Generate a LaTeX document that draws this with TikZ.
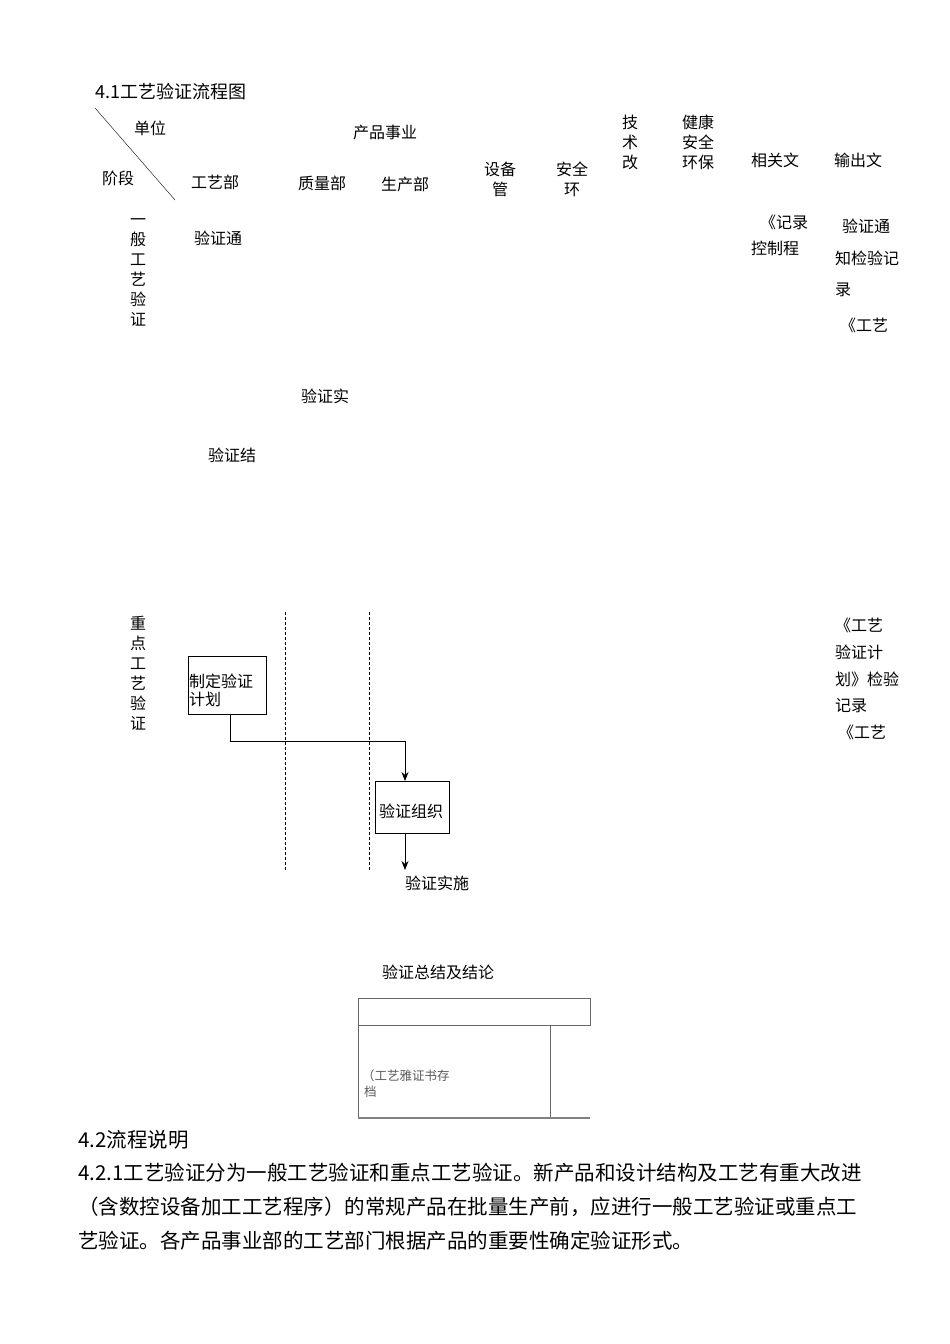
\documentclass[tikz,border=0pt]{standalone}
\usepackage{fontspec}
\setmainfont{Noto Sans CJK SC}
\usetikzlibrary{arrows.meta}
\begin{document}
\begin{tikzpicture}[x=1pt,y=-1pt,
  t/.style={inner sep=0pt,font=\fontsize{16}{18}\selectfont},
  tl/.style={t,anchor=west},
  v/.style={t,align=center,font=\fontsize{16}{20}\selectfont},
  bx/.style={draw,line width=1pt},
  dl/.style={densely dashed,line width=0.8pt},
  ar/.style={-{Stealth[length=9pt,width=7pt]},line width=0.8pt}]
\useasboundingbox (0,0) rectangle (950,1344);
\node[tl,font=\fontsize{18}{20}\selectfont] (title) at (95,92) {4.1工艺验证流程图};
\draw (95,108) -- (175,200);
\node[t] (dw) at (150,128) {单位};
\node[t] (jd) at (118,178) {阶段};
\node[t] (cp) at (385,132) {产品事业};
\node[t] (gy) at (215,182) {工艺部};
\node[t] (zl) at (322,183) {质量部};
\node[t] (sc) at (405,184) {生产部};
\node[v] (sb) at (500,179) {设备\\管};
\node[v] (aq) at (572,179) {安全\\环};
\node[v] (js) at (630,142) {技\\术\\改};
\node[v] (jk) at (698,142) {健康\\安全\\环保};
\node[t] (xg) at (775,160) {相关文};
\node[t] (sc2) at (858,160) {输出文};
\node[v] (ybs) at (138,272) {一\\般\\工\\艺\\验\\证};
\node[t] (yzt) at (218,238) {验证通};
\node[t] (jl1) at (784,222) {《记录};
\node[t] (jl2) at (775,248) {控制程};
\node[tl] (o1) at (842,226) {验证通};
\node[tl] (o2) at (835,258) {知检验记};
\node[tl] (o3) at (835,290) {录};
\node[tl] (o4) at (840,325) {《工艺};
\node[t] (yzs) at (325,396) {验证实};
\node[t] (yzj) at (232,455) {验证结};
\node[v] (zds) at (138,673) {重\\点\\工\\艺\\验\\证};
\draw[dl] (285,612) -- (285,870);
\draw[dl] (369,612) -- (369,870);
\node[bx,minimum width=78pt,minimum height=58pt] (jh) at (227,685) {};
\node[t,align=left,anchor=north west] (jht) at (189,674) {制定验证\\计划};
\node[bx,minimum width=74pt,minimum height=52pt] (zz) at (412,807) {};
\node[t] (zzt) at (411,811) {验证组织};
\coordinate (c1) at (230,741);
\coordinate (c2) at (405,741);
\coordinate (c3) at (405,870);
\draw[line width=0.8pt] (230,714) -- (c1) -- (c2);
\draw[ar] (c2) -- (405,781);
\draw[ar] (405,833) -- (c3);
\node[t] (ss) at (437,883) {验证实施};
\node[tl] (r1) at (835,625) {《工艺};
\node[tl] (r2) at (835,652) {验证计};
\node[tl] (r3) at (835,679) {划》检验};
\node[tl] (r4) at (835,706) {记录};
\node[tl] (r5) at (838,732) {《工艺};
\node[t] (zj) at (438,972) {验证总结及结论};
\draw[gray!80!black] (358,998) rectangle (590,1025);
\draw[gray!80!black] (358,1025) -- (358,1118);
\draw[gray!80!black] (550,1025) -- (550,1118);
\draw[gray,line width=1.2pt] (358,1118) -- (590,1118);
\node[t,anchor=west,text=gray!70!black,font=\fontsize{12.5}{14}\selectfont] (ct1) at (362,1076) {（工艺雅证书存};
\node[t,anchor=west,text=gray!70!black,font=\fontsize{12.5}{14}\selectfont] (ct2) at (364,1092) {档};
\begin{scope}[every node/.style={inner sep=0pt,anchor=west,font=\fontsize{20.5}{22}\selectfont}]
\node (p0) at (78,1140) {4.2流程说明};
\node (p1) at (78,1173) {4.2.1工艺验证分为一般工艺验证和重点工艺验证。新产品和设计结构及工艺有重大改进};
\node (p2) at (78,1207) {（含数控设备加工工艺程序）的常规产品在批量生产前，应进行一般工艺验证或重点工};
\node (p3) at (78,1241) {艺验证。各产品事业部的工艺部门根据产品的重要性确定验证形式。};
\end{scope}
\end{tikzpicture}
\end{document}
